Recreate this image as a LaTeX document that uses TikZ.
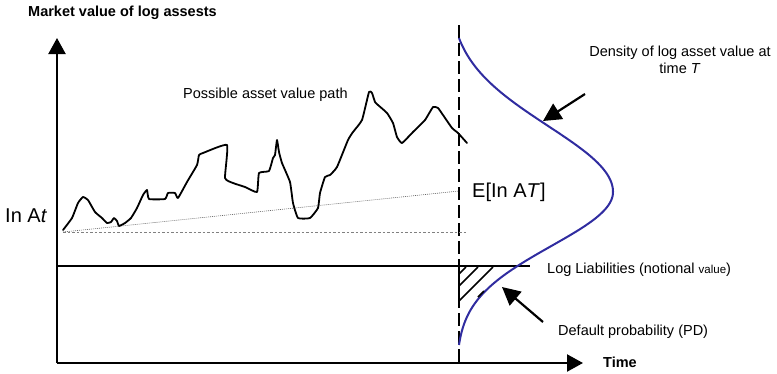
\documentclass[tikz,border=0pt]{standalone}
\usepackage{fontspec}
\setmainfont{Liberation Sans}
\usetikzlibrary{arrows.meta}
\definecolor{curveblue}{RGB}{48,44,160}
\begin{document}
\begin{tikzpicture}[x=1pt,y=-1pt,
  txt/.style={inner sep=0pt, anchor=base west, font=\fontsize{14.5}{17}\selectfont},
  bigtxt/.style={inner sep=0pt, anchor=base west, font=\fontsize{20}{24}\selectfont},
  axisline/.style={line width=2.2pt, -{Triangle[length=16pt,width=17pt]}},
  pointer/.style={line width=2.2pt, -{Triangle[length=18pt,width=18pt]}},
  frame/.style={line width=1.8pt},
  vdash/.style={line width=1.8pt, dash pattern=on 13pt off 5pt},
  hatchline/.style={line width=1.6pt},
  guide/.style={gray, line width=0.9pt, dash pattern=on 2.5pt off 2pt},
  trend/.style={gray!80!black, line width=0.6pt, dash pattern=on 1pt off 1pt},
  pathline/.style={line width=1.8pt, line join=round, line cap=round},
  dens/.style={curveblue, line width=2pt}]
\useasboundingbox (0,0) rectangle (777,373);

% coordinates
\coordinate (o) at (57,363);
\coordinate (ytip) at (57,38);
\coordinate (xtip) at (583,363);
\coordinate (liabL) at (57,266);
\coordinate (liabR) at (530,266);
\coordinate (vtop) at (459,25);
\coordinate (vbot) at (459,363);
\coordinate (start) at (63,232);
\coordinate (dotR) at (467,232);
\coordinate (meanT) at (459,191);

% axes and frame
\draw[axisline] (o) -- (ytip);
\draw[axisline] (o) -- (xtip);
\draw[frame] (liabL) -- (liabR);
\draw[vdash] (vtop) -- (vbot);
\draw[frame] (459,266) -- (459,302);

% guides
\draw[guide] (start) -- (dotR);
\draw[trend] (start) -- (meanT);

% asset path
\draw[pathline] plot[smooth, tension=0.25] coordinates {
(63,230) (72,218) (78,203) (83,197) (88,200) (95,212) (102,218) (107,223)
(111,222) (114,218) (117,221) (119,226) (125,223) (131,218) (137,208) (143,195)
(147,190) (149,199) (165,199) (168,193) (175,193) (178,198) (187,182) (197,165)
(199,155) (203,153) (227,145) (225,178) (233,183) (245,187) (257,192) (259,173)
(269,171) (273,158) (275,155) (277,140) (279,152) (282,163) (290,182) (293,203)
(298,218) (310,218) (318,208) (320,193) (325,177) (330,175) (337,167) (348,140)
(353,132) (362,120) (369,92) (372,93) (375,102) (378,105) (387,113) (393,123)
(397,137) (402,143) (413,132) (425,120) (433,107) (438,108) (443,115) (452,128)
(458,133) (467,143)};

% density curve
\draw[dens] plot[domain=38:192, samples=70, variable=\t]
  ({459+154*(exp(-0.5*((\t-192)/66)^2)-0.066)/0.934}, \t)
  -- plot[domain=192:345, samples=70, variable=\t]
  ({459+154*(exp(-0.5*((\t-192)/54)^2)-0.018)/0.982}, \t);

% hatch
\draw[hatchline] (466,267) -- (459,274);
\draw[hatchline] (478,267) -- (459,286);
\draw[hatchline] (493,267) -- (459,301);
\draw[hatchline] (484,291) -- (478,297);

% labels
\node[txt, font=\bfseries\fontsize{14.5}{17}\selectfont] (title) at (28,16.7) {Market value of log assests};
\node[txt] (pathlbl) at (183,98.3) {Possible asset value path};
\node[bigtxt] (lnAt) at (5,222.7) {In A\textit{t}};
\node[bigtxt] (ET) at (472,197) {E[In A\textit{T}]};
\node[txt, anchor=base, align=center] (denslbl) at (680,73.3) {Density of log asset value at\\time \textit{T}};
\node[txt] (liab) at (547,273) {Log Liabilities (notional {\fontsize{11.5}{13}\selectfont value})};
\node[txt] (pd) at (558,335) {Default probability (PD)};
\node[txt, font=\bfseries\fontsize{14.5}{17}\selectfont] (time) at (603,367) {Time};

% pointers
\coordinate (densTail) at (585,94);
\coordinate (densTip) at (543,121);
\coordinate (pdTail) at (543,322);
\coordinate (pdTip) at (502,287);
\draw[pointer] (densTail) -- (densTip);
\draw[pointer] (pdTail) -- (pdTip);
\end{tikzpicture}
\end{document}
